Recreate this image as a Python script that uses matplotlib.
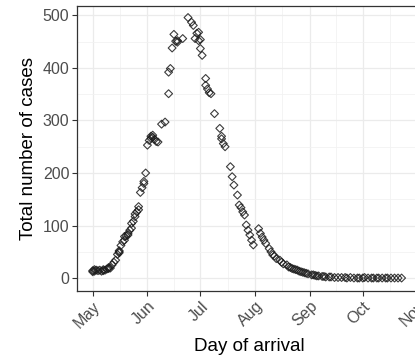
import numpy as np
import matplotlib
matplotlib.use("Agg")
import matplotlib.pyplot as plt

# ────────────────────────────────────────────────────────────────
# DATA (day offset from 1 May, total number of cases)
# ────────────────────────────────────────────────────────────────
days = [
    0, 0, 1, 1, 2, 3, 4, 5, 6, 6, 7, 8, 9, 9, 10, 11, 12, 13, 14, 15, 15, 15,
    16, 17, 18, 18, 19, 20, 20, 21, 22, 22, 23, 24, 24, 25, 26, 26, 27, 28,
    29, 29, 30,
    31, 32, 33, 33, 34, 34, 35, 36, 37, 39, 41, 43, 43, 44, 45, 46, 47, 48,
    48, 51, 54, 56, 57, 58, 59, 60, 60, 61, 61, 62,
    64, 64, 65, 66, 67, 69, 72, 73, 73, 74, 75, 78, 79, 80, 82, 83, 84, 85,
    86, 87, 88, 89, 90, 91,
    94, 95, 96, 97, 98, 100, 101, 102, 103, 104, 106, 107, 108, 110, 111,
    112, 113, 114, 115, 116, 117, 118, 119, 120, 121, 122,
    124, 125, 126, 127, 128, 130, 131, 132, 134, 135, 137, 139, 141, 143,
    144, 146, 148, 150, 151, 153, 154, 156, 158, 159, 161, 162, 164, 166,
    167, 169, 171, 173, 175,
]
cases = [
    12, 14, 13, 16, 15, 14, 15, 13, 16, 14, 15, 17, 18, 20, 19, 25, 30, 34,
    45, 48, 50, 52, 62, 69, 72, 79, 80, 82, 85, 91, 95, 104, 108, 117, 122,
    126, 130, 136, 163, 172, 180, 184, 200,
    253, 262, 266, 270, 272, 268, 264, 260, 259, 293, 297, 351, 392, 399,
    438, 464, 451, 449, 452, 456, 496, 487, 481, 456, 466, 468, 452, 437,
    454, 424,
    380, 367, 360, 353, 351, 313, 285, 270, 265, 256, 250, 212, 193, 177,
    158, 139, 134, 126, 120, 101, 91, 82, 72, 63,
    94, 85, 78, 72, 66, 56, 50, 44, 42, 37, 34, 30, 27, 25, 21, 20, 18, 17,
    16, 15, 13, 12, 11, 10, 9, 8,
    6, 6, 5, 4, 4, 3, 3, 2, 2, 2, 1, 1, 1, 1, 0, 1, 0, 0, 0, 0, 1, 0, 0, 0,
    0, 0, 0, 0, 0, 0, 0, 0, 0,
]

month_ticks = [0, 31, 61, 92, 123, 153, 184]
month_labels = ["May", "Jun", "Jul", "Aug", "Sep", "Oct", "Nov"]
y_ticks = [0, 100, 200, 300, 400, 500]

# ────────────────────────────────────────────────────────────────
# PLOT
# ────────────────────────────────────────────────────────────────
plt.rcParams["font.family"] = ["Liberation Sans", "DejaVu Sans"]

fig = plt.figure(figsize=(4.15, 3.57), dpi=100)
# panel runs past the right edge of the image (cropped like the original)
ax = fig.add_axes([77 / 415, 1 - 291 / 357, 344 / 415, 285 / 357])

ax.scatter(days, cases, marker="D", s=16, facecolors="none",
           edgecolors="#1a1a1a", linewidths=0.8, alpha=0.85, zorder=3)

ax.set_xlim(-8.9, 186)
ax.set_ylim(-24.7, 518)

ax.set_xticks(month_ticks)
ax.set_xticklabels(month_labels, rotation=45, ha="right", va="top",
                   rotation_mode="anchor")
ax.set_xticks([(a + b) / 2 for a, b in zip(month_ticks[:-1], month_ticks[1:])],
              minor=True)
ax.set_yticks(y_ticks)
ax.set_yticks([50, 150, 250, 350, 450], minor=True)

ax.grid(True, which="major", color="#EBEBEB", linewidth=0.9, zorder=0)
ax.grid(True, which="minor", color="#F2F2F2", linewidth=0.6, zorder=0)
ax.set_axisbelow(True)

for side in ax.spines.values():
    side.set_color("#333333")
    side.set_linewidth(0.9)

ax.tick_params(axis="both", which="major", length=3.5, width=0.8,
               color="#333333", labelcolor="#4D4D4D", labelsize=11.5, pad=2)
ax.tick_params(axis="both", which="minor", length=0)

ax.set_xlabel("Day of arrival", fontsize=13.5, labelpad=5)
ax.set_ylabel("Total number of cases", fontsize=13.5, labelpad=4)

fig.savefig("out.png", dpi=100)
